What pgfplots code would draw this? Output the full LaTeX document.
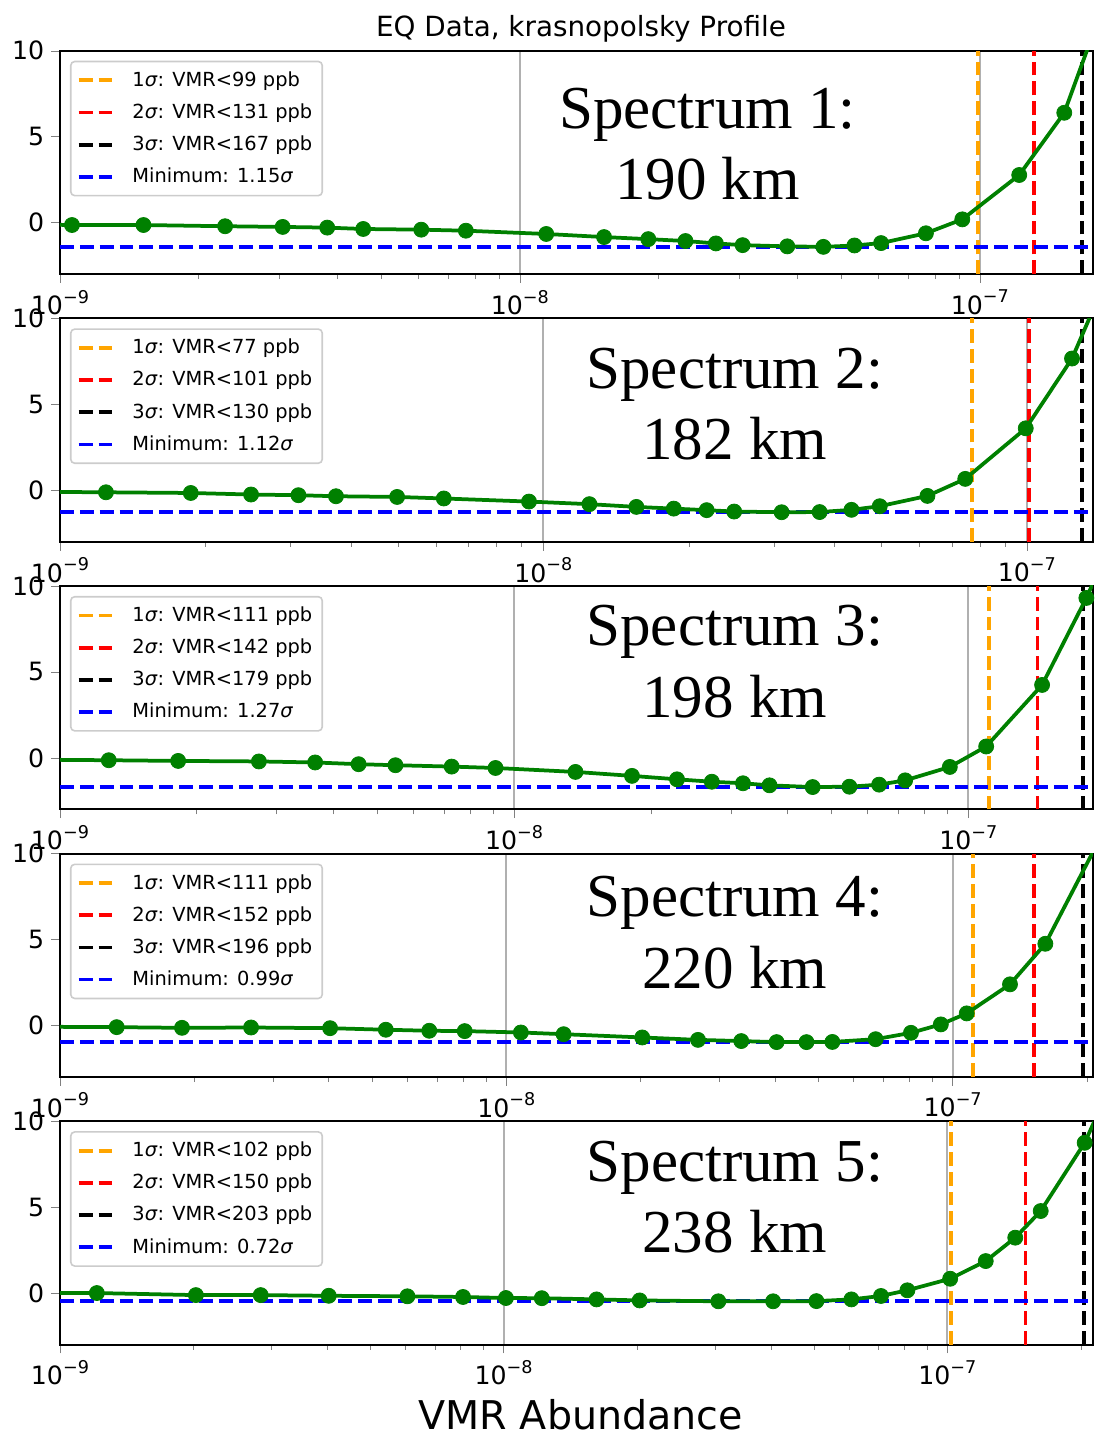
\documentclass[border=0pt]{standalone}
\usepackage{fontspec}
\setmainfont{DejaVu Sans}
\newfontfamily\serifspec{Liberation Serif}
\usepackage{pgfplots}
\pgfplotsset{compat=1.18}

\definecolor{mplorange}{HTML}{FFA500}
\definecolor{mplred}{HTML}{FF0000}
\definecolor{mplblue}{HTML}{0000FF}
\definecolor{mplgreen}{HTML}{008000}
\definecolor{mplgrid}{HTML}{B0B0B0}

\newcommand\sig{\textit{σ}}
\newcommand\dec[1]{10\raisebox{0.45em}{\fontsize{8.8}{9}\selectfont −#1}}

\tikzset{
  dl/.style={line width=1.875pt, dash pattern=on 6.94pt off 3pt},
  curve/.style={mplgreen, line width=1.875pt, mark=*, mark size=3.75pt,
    mark options={solid, fill=mplgreen, draw=mplgreen, line width=0.4pt}},
}

\pgfplotsset{
  every axis/.append style={
    width=516.5pt, height=111.75pt, scale only axis,
    ymin=-3, ymax=10,
    ytick={0,5,10},
    tick align=outside,
    major tick length=4.375pt, minor tick length=2.5pt,
    axis line style={line width=1pt},
    tick label style={font=\fontsize{12.6}{14}\selectfont},
    legend style={at={(0,1)}, anchor=north west, xshift=5pt, yshift=-5pt,
      draw=black!20, line width=0.8pt, rounded corners=2pt, fill=white,
      font=\fontsize{9.7}{11}\selectfont, inner xsep=3pt, inner ysep=3pt,
      row sep=3.2pt, cells={anchor=west},
      /tikz/every odd column/.append style={column sep=5pt}},
  },
  legend image code/.code={\draw[#1] (0pt,0pt) -- (19pt,0pt);},
}

% threshold lines: 1-sigma, 2-sigma, 3-sigma (ppb), minimum value, minimum sigma
\newcommand\thresholds[5]{%
  \addplot[mplorange, dl] coordinates {(#1e-9,-3) (#1e-9,10)};
  \addlegendentry{1\sig: VMR<#1 ppb}
  \addplot[mplred, dl] coordinates {(#2e-9,-3) (#2e-9,10)};
  \addlegendentry{2\sig: VMR<#2 ppb}
  \addplot[black, dl] coordinates {(#3e-9,-3) (#3e-9,10)};
  \addlegendentry{3\sig: VMR<#3 ppb}
  \addplot[mplblue, dl] coordinates {(1e-9,#4) (1e-6,#4)};
  \addlegendentry{Minimum: #5\sig}
}

\newcommand\spec[4]{% rel x, first baseline drop, line 1, line 2
  \node[anchor=base, yshift=-#2pt, font=\serifspec\fontsize{30.5}{32}\selectfont]
    at (rel axis cs:#1,1) {#3};
  \node[anchor=base, yshift=-#2pt-35.8pt, font=\serifspec\fontsize{30.5}{32}\selectfont]
    at (rel axis cs:#1,1) {#4};
}

\begin{document}
\begin{tikzpicture}
\path[use as bounding box] (0,0) rectangle (547pt,-717pt);

\node[anchor=base, font=\fontsize{13.9}{16}\selectfont] at (290.5pt,-18.35pt)
  {EQ Data, krasnopolsky Profile};

% Spectrum 1
\begin{axis}[xmode=log, anchor=north west, at={(30pt,-25.35pt)},
  xmin=1e-9, xmax=1.762e-7,
  xtick={1e-9,1e-8,1e-7}, xticklabels={\dec{9},\dec{8},\dec{7}},
  minor xtick={2e-9,3e-9,4e-9,5e-9,6e-9,7e-9,8e-9,9e-9,2e-8,3e-8,4e-8,5e-8,6e-8,7e-8,8e-8,9e-8,2e-7},
  xtick pos=left, ytick pos=left,
  xmajorgrids, major x grid style={mplgrid, line width=1pt},
  /pgf/number format/assume math mode=true]
\thresholds{99}{131}{167}{-1.41}{1.15}
\addplot[curve, forget plot] coordinates {
(0.763e-9,-0.08) (1.062e-9,-0.14) (1.519e-9,-0.14) (2.286e-9,-0.21)
(3.05e-9,-0.25) (3.812e-9,-0.29) (4.564e-9,-0.37) (6.103e-9,-0.41)
(7.631e-9,-0.47) (1.141e-8,-0.66) (1.524e-8,-0.84) (1.902e-8,-0.96)
(2.291e-8,-1.07) (2.668e-8,-1.21) (3.05e-8,-1.31) (3.814e-8,-1.38)
(4.569e-8,-1.41) (5.339e-8,-1.33) (6.1e-8,-1.19) (7.635e-8,-0.62)
(9.16e-8,0.19) (1.218e-7,2.77) (1.526e-7,6.39) (1.9075e-7,13.5)};
\spec{0.6268}{38.8}{Spectrum 1:}{190 km}
\end{axis}

% Spectrum 2
\begin{axis}[xmode=log, anchor=north west, at={(30pt,-159.15pt)},
  xmin=1e-9, xmax=1.37e-7,
  xtick={1e-9,1e-8,1e-7}, xticklabels={\dec{9},\dec{8},\dec{7}},
  minor xtick={2e-9,3e-9,4e-9,5e-9,6e-9,7e-9,8e-9,9e-9,2e-8,3e-8,4e-8,5e-8,6e-8,7e-8,8e-8,9e-8,2e-7},
  xtick pos=left, ytick pos=left,
  xmajorgrids, major x grid style={mplgrid, line width=1pt},
  /pgf/number format/assume math mode=true]
\thresholds{77}{101}{130}{-1.28}{1.12}
\addplot[curve, forget plot] coordinates {
(0.871e-9,-0.09) (1.245e-9,-0.12) (1.865e-9,-0.16) (2.485e-9,-0.25)
(3.114e-9,-0.29) (3.724e-9,-0.35) (4.982e-9,-0.39) (6.223e-9,-0.48)
(9.337e-9,-0.66) (1.245e-8,-0.81) (1.557e-8,-0.97) (1.861e-8,-1.07)
(2.176e-8,-1.16) (2.481e-8,-1.24) (3.11e-8,-1.28) (3.728e-8,-1.27)
(4.338e-8,-1.14) (4.963e-8,-0.93) (6.229e-8,-0.33) (7.458e-8,0.66)
(9.948e-8,3.60) (1.24e-7,7.66) (1.555e-7,14.06)};
\spec{0.6533}{35}{Spectrum 2:}{182 km}
\end{axis}

% Spectrum 3
\begin{axis}[xmode=log, anchor=north west, at={(30pt,-292.95pt)},
  xmin=1e-9, xmax=1.882e-7,
  xtick={1e-9,1e-8,1e-7}, xticklabels={\dec{9},\dec{8},\dec{7}},
  minor xtick={2e-9,3e-9,4e-9,5e-9,6e-9,7e-9,8e-9,9e-9,2e-8,3e-8,4e-8,5e-8,6e-8,7e-8,8e-8,9e-8,2e-7},
  xtick pos=left, ytick pos=left,
  xmajorgrids, major x grid style={mplgrid, line width=1pt},
  /pgf/number format/assume math mode=true]
\thresholds{111}{142}{179}{-1.70}{1.27}
\addplot[curve, forget plot] coordinates {
(0.91e-9,-0.11) (1.281e-9,-0.14) (1.821e-9,-0.18) (2.742e-9,-0.21)
(3.647e-9,-0.27) (4.546e-9,-0.37) (5.479e-9,-0.43) (7.288e-9,-0.51)
(9.101e-9,-0.59) (1.365e-8,-0.82) (1.818e-8,-1.05) (2.284e-8,-1.25)
(2.725e-8,-1.39) (3.191e-8,-1.48) (3.651e-8,-1.60) (4.544e-8,-1.70)
(5.474e-8,-1.68) (6.364e-8,-1.56) (7.263e-8,-1.31) (9.107e-8,-0.53)
(1.095e-7,0.66) (1.454e-7,4.24) (1.82e-7,9.30) (2.275e-7,15.0)};
\spec{0.6533}{30}{Spectrum 3:}{198 km}
\end{axis}

% Spectrum 4
\begin{axis}[xmode=log, anchor=north west, at={(30pt,-426.75pt)},
  xmin=1e-9, xmax=2.062e-7,
  xtick={1e-9,1e-8,1e-7}, xticklabels={\dec{9},\dec{8},\dec{7}},
  minor xtick={2e-9,3e-9,4e-9,5e-9,6e-9,7e-9,8e-9,9e-9,2e-8,3e-8,4e-8,5e-8,6e-8,7e-8,8e-8,9e-8,2e-7},
  xtick pos=left, ytick pos=left,
  xmajorgrids, major x grid style={mplgrid, line width=1pt},
  /pgf/number format/assume math mode=true]
\thresholds{111}{152}{196}{-0.97}{0.99}
\addplot[curve, forget plot] coordinates {
(0.806e-9,-0.07) (1.34e-9,-0.10) (1.877e-9,-0.14) (2.68e-9,-0.12)
(4.029e-9,-0.16) (5.371e-9,-0.25) (6.722e-9,-0.31) (8.069e-9,-0.33)
(1.078e-8,-0.41) (1.344e-8,-0.51) (2.016e-8,-0.70) (2.688e-8,-0.84)
(3.36e-8,-0.91) (4.032e-8,-0.97) (4.704e-8,-0.97) (5.376e-8,-0.96)
(6.72e-8,-0.80) (8.064e-8,-0.43) (9.408e-8,0.06) (1.0752e-7,0.70)
(1.344e-7,2.39) (1.613e-7,4.75) (2.15e-7,11.0)};
\spec{0.6533}{31.6}{Spectrum 4:}{220 km}
\end{axis}

% Spectrum 5
\begin{axis}[xmode=log, anchor=north west, at={(30pt,-560.55pt)},
  xmin=1e-9, xmax=2.13e-7,
  xtick={1e-9,1e-8,1e-7}, xticklabels={\dec{9},\dec{8},\dec{7}},
  minor xtick={2e-9,3e-9,4e-9,5e-9,6e-9,7e-9,8e-9,9e-9,2e-8,3e-8,4e-8,5e-8,6e-8,7e-8,8e-8,9e-8,2e-7},
  xtick pos=left, ytick pos=left,
  xmajorgrids, major x grid style={mplgrid, line width=1pt},
  /pgf/number format/assume math mode=true]
\thresholds{102}{150}{203}{-0.48}{0.72}
\addplot[curve, forget plot] coordinates {
(0.812e-9,0.00) (1.211e-9,0.00) (2.025e-9,-0.12) (2.835e-9,-0.12)
(4.035e-9,-0.16) (6.07e-9,-0.19) (8.1e-9,-0.23) (1.012e-8,-0.29)
(1.219e-8,-0.30) (1.62e-8,-0.37) (2.026e-8,-0.43) (3.048e-8,-0.48)
(4.05e-8,-0.48) (5.07e-8,-0.47) (6.08e-8,-0.37) (7.09e-8,-0.17)
(8.13e-8,0.16) (1.015e-7,0.83) (1.221e-7,1.86) (1.423e-7,3.22)
(1.624e-7,4.77) (2.04e-7,8.74) (2.436e-7,13.1)};
\spec{0.6533}{30}{Spectrum 5:}{238 km}
\end{axis}

\node[anchor=base, inner ysep=0pt, text depth=0pt, font=\fontsize{19.8}{22}\selectfont]
  at (290.4pt,-714.5pt) {VMR Abundance};
\end{tikzpicture}
\end{document}
